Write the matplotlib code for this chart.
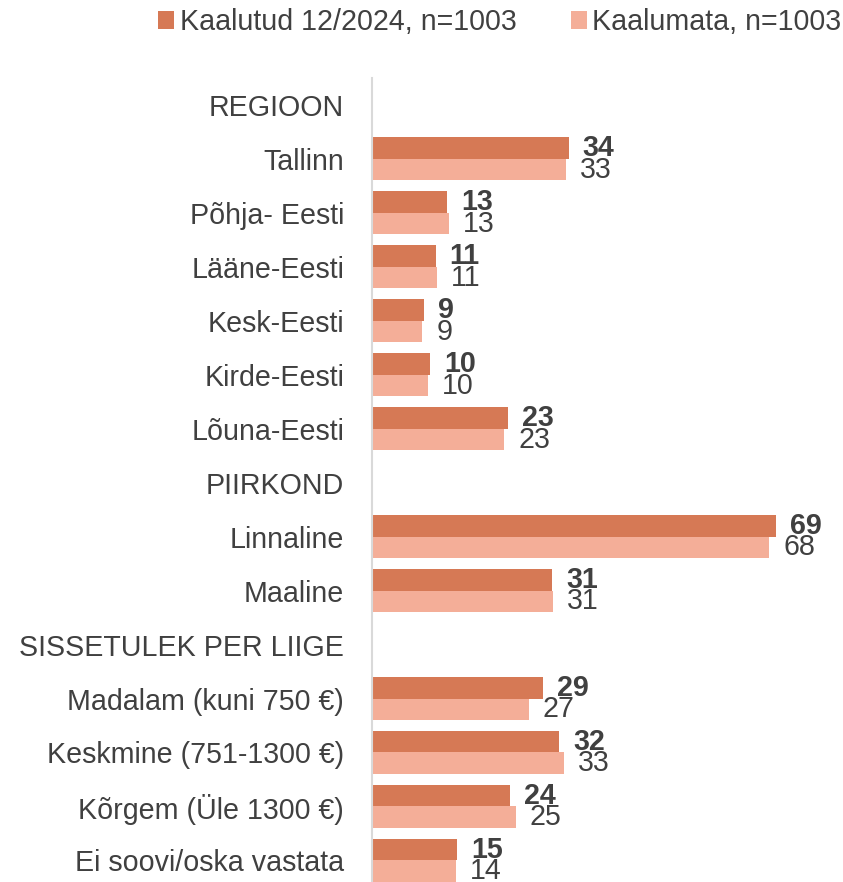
import matplotlib.pyplot as plt
import numpy as np

plt.rcParams['font.family'] = ['Liberation Sans', 'DejaVu Sans']

# rows of the chart, headers have no bars
categories = ['REGIOON', 'Tallinn', 'Põhja- Eesti', 'Lääne-Eesti', 'Kesk-Eesti', 'Kirde-Eesti',
              'Lõuna-Eesti', 'PIIRKOND', 'Linnaline', 'Maaline', 'SISSETULEK PER LIIGE',
              'Madalam (kuni 750 €)', 'Keskmine (751-1300 €)', 'Kõrgem (Üle 1300 €)',
              'Ei soovi/oska vastata']
weighted = [None, 33.6, 12.8, 10.9, 8.9, 9.9, 23.2, None, 69.0, 30.8, None, 29.2, 32.0, 23.6, 14.6]
unweighted = [None, 33.2, 13.2, 11.1, 8.6, 9.6, 22.6, None, 67.9, 31.0, None, 26.8, 32.8, 24.6, 14.3]
series_names = ['Kaalutud 12/2024, n=1003', 'Kaalumata, n=1003']

dark = '#D67955'
light = '#F4AE98'
txt = '#404040'
fs = 20.6

fig = plt.figure(figsize=(8.43, 8.82), dpi=100)
ax = fig.add_axes([0.4413, 0.0, 0.5587, 0.9116])

y = np.arange(len(categories))
h = 0.4
rows = [i for i, v in enumerate(weighted) if v is not None]
w_vals = [weighted[i] for i in rows]
u_vals = [unweighted[i] for i in rows]
ypos = np.array(rows)

b1 = ax.barh(ypos - h / 2, w_vals, height=h, color=dark, label=series_names[0])
b2 = ax.barh(ypos + h / 2, u_vals, height=h, color=light, label=series_names[1])

for yy, v in zip(ypos, w_vals):
    ax.annotate(f'{v:.0f}', (v, yy - h / 2), xytext=(10, 0), textcoords='offset points',
                ha='left', va='center', fontsize=fs, fontweight='bold', color=txt)
for yy, v in zip(ypos, u_vals):
    ax.annotate(f'{v:.0f}', (v, yy + h / 2), xytext=(10, 0), textcoords='offset points',
                ha='left', va='center', fontsize=fs, color=txt)

ax.set_yticks(y)
ax.set_yticklabels(categories, fontsize=fs, color=txt)
ax.tick_params(axis='y', length=0, pad=20)
ax.set_xticks([])
ax.set_xlim(0, 80.5)
ax.set_ylim(14.4, -0.5)
for s in ['top', 'right', 'bottom']:
    ax.spines[s].set_visible(False)
ax.spines['left'].set_color('#D9D9D9')
ax.spines['left'].set_linewidth(1.5)

fig.legend(handles=[b1, b2], loc='center', bbox_to_anchor=(0.593, 0.975), ncol=2,
           frameon=False, fontsize=fs, handlelength=0.55, handleheight=0.55,
           handletextpad=0.2, columnspacing=1.9, labelcolor=txt)

fig.savefig('out.png', dpi=100)
